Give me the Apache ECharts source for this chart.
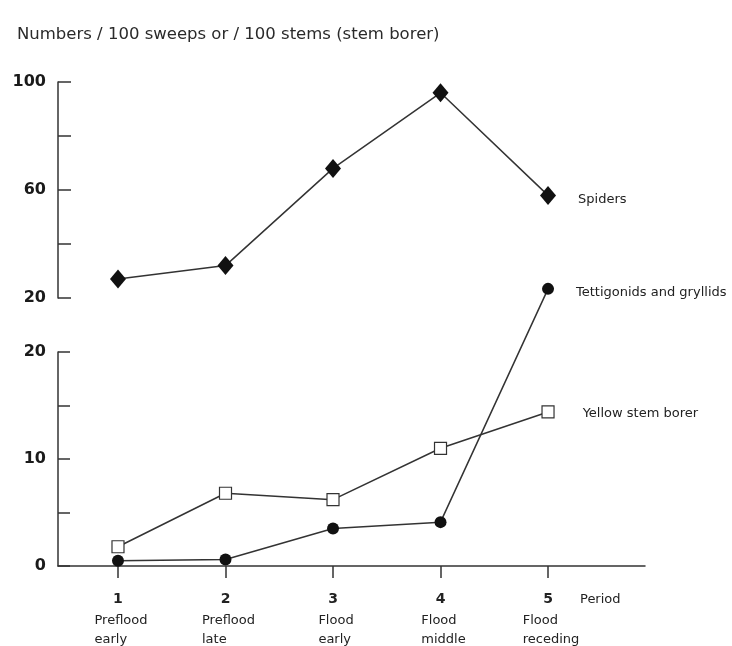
<!DOCTYPE html>
<html><head><meta charset="utf-8">
<script src="https://cdn.jsdelivr.net/npm/echarts@6/dist/echarts.min.js"></script>
<style>html,body{margin:0;padding:0;background:#fff}#c{width:732px;height:646px}</style>
</head><body><div id="c"></div>
<script>
const periods = [1, 2, 3, 4, 5];
const periodNames = [['Preflood', 'early'], ['Preflood', 'late'], ['Flood', 'early'], ['Flood', 'middle'], ['Flood', 'receding']];
const spiders = [27, 32, 68, 96, 58];
const tettigonids = [0.5, 0.6, 3.5, 4.1, 25.9];
const yellowStemBorer = [1.8, 6.8, 6.2, 11.0, 14.4];
const seriesNames = ['Spiders', 'Tettigonids and gryllids', 'Yellow stem borer'];
const upperTickLabels = [20, 60, 100];
const lowerTickLabels = [0, 10, 20];
const titleText = 'Numbers / 100 sweeps or / 100 stems (stem borer)';
const axisName = 'Period';

const FONT = 'DejaVu Sans';
const lineCol = '#333';

function makeData(vals, labelCfg) {
  return vals.map((v, i) => {
    if (i === vals.length - 1) {
      return { value: [periods[i], v], label: Object.assign({
        show: true, position: 'right', formatter: '{a}',
        fontFamily: FONT, fontSize: 13, color: '#222'
      }, labelCfg) };
    }
    return [periods[i], v];
  });
}

const xMin = 0.442, xMax = 5.902;
const chart = echarts.init(document.getElementById('c'));
chart.setOption({
  animation: false,
  backgroundColor: '#fff',
  title: {
    text: titleText, left: 12, top: 21,
    textStyle: { fontFamily: FONT, fontSize: 16.5, fontWeight: 'normal', color: '#2a2a2a' }
  },
  graphic: [{
    type: 'text', left: 580, top: 593,
    style: { text: axisName, font: '13px "DejaVu Sans"', fill: '#222' }
  }],
  grid: [
    { left: 58, top: 82, width: 587, height: 216 },
    { left: 58, top: 352, width: 587, height: 217 }
  ],
  xAxis: [
    { gridIndex: 0, type: 'value', min: xMin, max: xMax, show: false },
    {
      gridIndex: 1, type: 'value', min: xMin, max: xMax,
      axisLine: { lineStyle: { color: lineCol, width: 1.5 } },
      axisTick: { customValues: periods, length: 12, lineStyle: { color: lineCol, width: 1.5 } },
      splitLine: { show: false },
      axisLabel: {
        customValues: periods, margin: 21,
        formatter: function (v) {
          const i = periods.indexOf(v);
          if (i < 0) return '';
          return '{n|' + v + '}\n{s|' + periodNames[i][0] + '}\n{s|' + periodNames[i][1] + '}';
        },
        rich: {
          n: { fontFamily: FONT, fontSize: 14, fontWeight: 'bold', color: '#222', lineHeight: 24, align: 'center' },
          s: { fontFamily: FONT, fontSize: 13, color: '#222', lineHeight: 19, align: 'left', padding: [0, 0, 0, 6] }
        }
      }
    }
  ],
  yAxis: [
    {
      gridIndex: 0, type: 'value', min: 20, max: 100, interval: 20,
      axisLine: { show: true, lineStyle: { color: lineCol, width: 1.5 } },
      axisTick: { show: true, inside: true, length: 13, lineStyle: { color: lineCol, width: 1.5 } },
      splitLine: { show: false },
      axisLabel: {
        margin: 12, fontFamily: FONT, fontSize: 16, fontWeight: 'bold', color: '#1a1a1a',
        formatter: v => upperTickLabels.includes(v) ? String(v) : ''
      }
    },
    {
      gridIndex: 1, type: 'value', min: 0, max: 20, interval: 5,
      axisLine: { show: true, lineStyle: { color: lineCol, width: 1.5 } },
      axisTick: { show: true, inside: true, length: 12, lineStyle: { color: lineCol, width: 1.5 } },
      splitLine: { show: false },
      axisLabel: {
        margin: 12, fontFamily: FONT, fontSize: 16, fontWeight: 'bold', color: '#1a1a1a',
        formatter: v => lowerTickLabels.includes(v) ? String(v) : ''
      }
    }
  ],
  series: [
    {
      name: seriesNames[0], type: 'line', xAxisIndex: 0, yAxisIndex: 0,
      data: makeData(spiders, { distance: 22, offset: [0, 4] }),
      symbol: 'diamond', symbolSize: [16, 19],
      lineStyle: { color: lineCol, width: 1.5 },
      itemStyle: { color: '#111' },
      emphasis: { disabled: true }, clip: false, z: 3
    },
    {
      name: seriesNames[1], type: 'line', xAxisIndex: 1, yAxisIndex: 1,
      data: makeData(tettigonids, { distance: 22, offset: [0, 4] }),
      symbol: 'circle', symbolSize: 12,
      lineStyle: { color: lineCol, width: 1.5 },
      itemStyle: { color: '#111' },
      emphasis: { disabled: true }, clip: false, z: 3
    },
    {
      name: seriesNames[2], type: 'line', xAxisIndex: 1, yAxisIndex: 1,
      data: makeData(yellowStemBorer, { distance: 28, offset: [0, 2] }),
      symbol: 'rect', symbolSize: 12,
      lineStyle: { color: lineCol, width: 1.5 },
      itemStyle: { color: '#fff', borderColor: '#333', borderWidth: 1.2 },
      emphasis: { disabled: true }, clip: false, z: 4
    }
  ]
});
</script>
</body></html>
